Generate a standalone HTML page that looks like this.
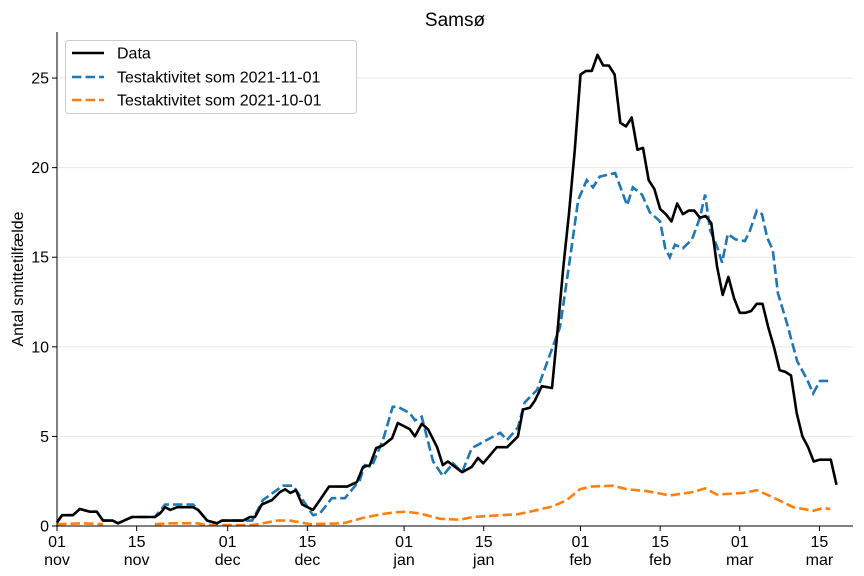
<!DOCTYPE html>
<html><head><meta charset="utf-8"><style>
body{margin:0;background:#fff;}
svg{display:block;font-family:"Liberation Sans","DejaVu Sans",sans-serif;}
</style></head><body>
<svg id="chart" width="864" height="576" viewBox="0 0 864 576">
<text x="455" y="26" font-size="19" text-anchor="middle">Samsø</text>
<g id="grid"></g>
<g id="series"></g>
<g id="axes"></g>
<text transform="translate(23,279) rotate(-90)" font-size="16" text-anchor="middle">Antal smittetilfælde</text>
<g>
<rect x="65.5" y="40.5" width="291" height="73" rx="3" fill="#fff" stroke="#ccc"/>
<g><line x1="72" x2="104" y1="53" y2="53" stroke="#000" stroke-width="2.6"/><text x="117" y="58.5" font-size="16">Data</text></g>
<g><line x1="72" x2="104" y1="77" y2="77" stroke="#1f77b4" stroke-width="2.6" stroke-dasharray="9.5,4"/><text x="117" y="82.5" font-size="16">Testaktivitet som 2021-11-01</text></g>
<g><line x1="72" x2="104" y1="100" y2="100" stroke="#ff7f0e" stroke-width="2.6" stroke-dasharray="9.5,4"/><text x="117" y="105.5" font-size="16">Testaktivitet som 2021-10-01</text></g>
</g>
</svg>
<script>
const dataDays=[0,0.9,2.8,4.0,5.8,7.0,8.1,9.8,10.7,13.2,17.2,18.1,19.0,19.9,21.1,23.9,24.8,26.4,28.1,29.0,32.7,33.9,34.8,36.0,37.8,39.2,40.1,41.0,42.0,43.1,45.0,46.2,47.8,51.0,52.7,53.8,55.0,56.1,57.3,58.9,59.9,62.0,62.9,64.1,65.2,66.8,67.8,68.7,71.2,72.9,74.0,74.9,77.3,79.1,81.0,81.9,83.1,84.0,85.2,87.0,88,89,90,91,92,93,94,95,96,97,98,99,100,101,102,103,104,105,106,107,108,109,110,111,112,113,114,115,116,117,118,119,120,121,122,123,124,125,126,127,128,129,130,131,132,133,134,135,136,137];
const dataVals=[0.2,0.6,0.6,0.95,0.8,0.8,0.3,0.3,0.15,0.5,0.5,0.7,1.05,0.9,1.05,1.05,0.9,0.3,0.15,0.3,0.3,0.5,0.5,1.2,1.45,1.9,2.05,1.85,2.0,1.2,0.9,1.45,2.2,2.2,2.45,3.3,3.4,4.35,4.5,4.9,5.75,5.4,5.0,5.7,5.4,4.4,3.4,3.6,3.0,3.3,3.8,3.5,4.4,4.4,5.0,6.5,6.6,7.0,7.8,7.7,11,14.5,17.5,21,25.2,25.4,25.4,26.3,25.7,25.7,25.2,22.5,22.3,22.8,21.0,21.1,19.3,18.8,17.7,17.4,17.0,18.0,17.4,17.6,17.6,17.2,17.3,16.9,14.5,12.9,13.9,12.7,11.9,11.9,12.0,12.4,12.4,11.1,10.0,8.7,8.6,8.4,6.3,5.0,4.4,3.6,3.7,3.7,3.7,2.3];
const novDays=[0,0.9,2.8,4.0,5.8,7.0,8.1,9.8,10.7,13.2,17.2,19.0,21.6,23.9,24.8,26.4,28.1,29.0,32.7,34.3,36.2,39.7,41.5,45.0,46.2,48.3,50.6,53.2,54.1,55.3,57.3,59.0,59.9,62.0,62.9,64.1,66.1,67.8,69.6,71.2,72.9,73.8,77.9,79.1,81.0,82.2,84.4,86.1,88.4,90.2,91.6,93.1,94.2,95.4,98.1,100.2,101.2,102.8,104.2,106.0,106.9,107.7,108.6,110.0,111.6,113.0,113.9,114.8,116.0,116.9,117.9,119.2,120.9,121.8,123.0,123.9,124.8,125.8,126.7,128.3,130.1,131.8,132.9,134.1,135.9];
const novVals=[0.2,0.6,0.6,0.95,0.8,0.8,0.3,0.3,0.15,0.5,0.5,1.2,1.2,1.2,0.9,0.3,0.15,0.3,0.3,0.3,1.45,2.25,2.25,0.6,0.7,1.55,1.55,2.55,3.4,3.3,4.8,6.65,6.65,6.3,5.9,6.1,3.6,2.8,3.5,3.0,4.35,4.5,5.2,4.8,5.5,6.9,7.6,9.1,11.1,15.0,18.2,19.3,18.9,19.5,19.7,17.9,18.9,18.5,17.5,17.0,15.5,15.0,15.7,15.5,16.0,17.2,18.5,16.5,15.6,14.7,16.3,16.0,15.9,16.5,17.6,17.4,16.1,15.4,13.0,11.3,9.2,8.2,7.4,8.1,8.1];
const octDays=[0,4.6,8.1,12,17.2,19.9,24.6,26.4,34.4,38.7,41.0,44.5,50.3,53.8,56.8,59.0,61.3,63.8,67.3,70.8,73.1,77.9,80.8,83.1,87.2,89.6,91.9,93.7,97.7,100.2,103.7,107.7,111.8,113.9,116.0,120.6,123.0,125.8,129.4,132.9,134.6,135.9];
const octVals=[0.1,0.15,0.1,null,0.1,0.15,0.15,0.05,0.05,0.3,0.3,0.1,0.15,0.45,0.65,0.75,0.8,0.7,0.4,0.35,0.5,0.6,0.65,0.8,1.1,1.45,2.05,2.2,2.25,2.05,1.95,1.7,1.9,2.1,1.75,1.85,2.0,1.6,1.05,0.85,1.0,0.95];
const yTicks=[0,5,10,15,20,25];
const xTickDays=[0,14,30,44,61,75,92,106,120,134];
const xTickDay=["01","15","01","15","01","15","01","15","01","15"];
const xTickMon=["nov","nov","dec","dec","jan","jan","feb","feb","mar","mar"];

const X0=57,X1=853,Y0=526,YT=32,DMAX=139.9,VMAX=27.57;
const xs=d=>X0+d/DMAX*(X1-X0);
const ys=v=>Y0-v/VMAX*(Y0-YT);
const NS="http://www.w3.org/2000/svg";
function mk(tag,attrs,parent){const e=document.createElementNS(NS,tag);for(const k in attrs)e.setAttribute(k,attrs[k]);parent.appendChild(e);return e;}
const grid=document.getElementById('grid'),axes=document.getElementById('axes'),ser=document.getElementById('series');
yTicks.forEach(t=>{
  const g=mk('line',{x1:X0,x2:X1,y1:ys(t),y2:ys(t),stroke:'#e8e8e8','stroke-width':1},grid);
  
  
  const tk=mk('line',{x1:X0-5,x2:X0,y1:ys(t),y2:ys(t),stroke:'#000','stroke-width':1},axes);
  
  
  const lb=mk('text',{x:X0-8,y:ys(t)+5.5,'font-size':16,'text-anchor':'end'},axes);
  lb.textContent=t;
  
  
});
xTickDays.forEach((d,i)=>{
  const tk=mk('line',{x1:xs(d),x2:xs(d),y1:Y0,y2:Y0+5,stroke:'#000','stroke-width':1},axes);
  
  
  const lb=mk('text',{x:xs(d),y:Y0+21,'font-size':16,'text-anchor':'middle'},axes);
  lb.textContent=xTickDay[i];
  
  
  const lb2=mk('text',{x:xs(d),y:Y0+39,'font-size':16,'text-anchor':'middle'},axes);
  lb2.textContent=xTickMon[i];
  
  
});
const sp1=mk('line',{x1:X0,x2:X0,y1:YT,y2:Y0,stroke:'#000','stroke-width':1},axes);


const sp2=mk('line',{x1:X0,x2:X1,y1:Y0,y2:Y0,stroke:'#000','stroke-width':1},axes);


function pathD(days,vals){let d='',pen=false;days.forEach((x,i)=>{const v=vals[i];if(v===null){pen=false;return;}d+=(pen?'L':'M')+xs(x).toFixed(1)+','+ys(v).toFixed(1);pen=true;});return d;}
const pOct=mk('path',{d:pathD(octDays,octVals),fill:'none',stroke:'#ff7f0e','stroke-width':2.6,'stroke-dasharray':'9.5,4'},ser);


const pNov=mk('path',{d:pathD(novDays,novVals),fill:'none',stroke:'#1f77b4','stroke-width':2.6,'stroke-dasharray':'9.5,4'},ser);


const pData=mk('path',{d:pathD(dataDays,dataVals),fill:'none',stroke:'#000','stroke-width':2.6,'stroke-linejoin':'round'},ser);


</script>
</body></html>
